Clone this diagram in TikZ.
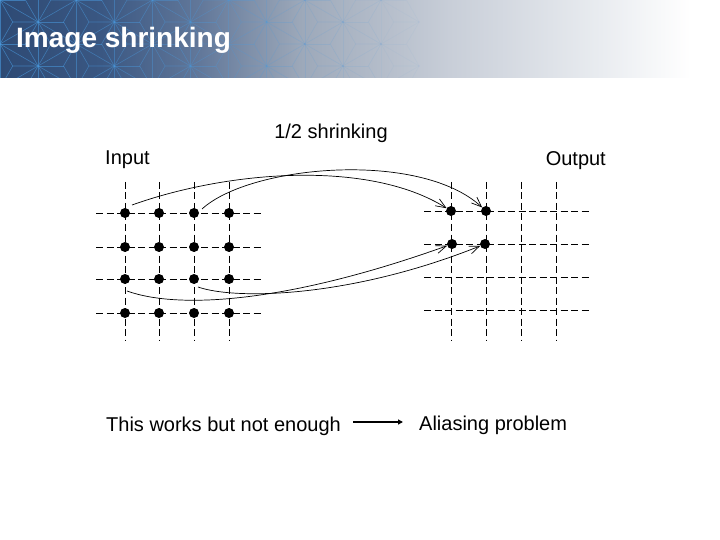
\documentclass[tikz,border=0pt]{standalone}
\usepackage{fontspec}
\setmainfont{Liberation Sans}
\usetikzlibrary{arrows.meta}
\definecolor{bandA}{HTML}{2E4A74}
\definecolor{bandB}{HTML}{3A5782}
\definecolor{bandC}{HTML}{62789A}
\definecolor{bandD}{HTML}{9CA8B9}
\definecolor{bandE}{HTML}{C8CED8}
\definecolor{bandF}{HTML}{E9ECF0}
\definecolor{hemp}{HTML}{4A9BE0}
\pgfdeclarehorizontalshading{titleband}{100bp}{color(0bp)=(bandA); color(25bp)=(bandA); color(32bp)=(bandB); color(38.9bp)=(bandC); color(45.8bp)=(bandD); color(56.2bp)=(bandE); color(66.7bp)=(bandF); color(73bp)=(white); color(100bp)=(white)}
\tikzset{
  gridline/.style={line width=0.9pt, dash pattern=on 7pt off 3.5pt},
  dot/.style={circle, fill=black, inner sep=0pt, minimum size=10pt},
  link/.style={line width=0.7pt, -{Straight Barb[length=10pt,width=8pt]}},
  lbl/.style={inner sep=0pt, font=\fontsize{20}{24}\selectfont},
}
\begin{document}
\begin{tikzpicture}[x=1pt,y=-1pt]
\useasboundingbox (0,0) rectangle (720,540);
\fill[white] (0,0) rectangle (720,540);
% title band
\shade[shading=titleband] (0,0) rectangle (720,78);
\begin{scope}
\clip (0,0) rectangle (720,78);
\pgfmathsetmacro{\aa}{44}
\pgfmathsetmacro{\hh}{38.105}
\foreach \i in {0,...,11}{
  \pgfmathsetmacro{\op}{0.6*(1-\i/11)}
  \pgfmathsetmacro{\xa}{\i*\hh}
  \pgfmathsetmacro{\xb}{(\i+1)*\hh}
  \pgfmathsetmacro{\s}{mod(\i,2)*\aa/2}
  \pgfmathsetmacro{\sp}{\aa/2-\s}
  \begin{scope}[draw=hemp, line width=0.6pt, opacity=\op]
  \draw (\xa,-10) -- (\xa,90);
  \foreach \j in {-1,...,2}{
    \pgfmathsetmacro{\ya}{\j*\aa+\s}
    \pgfmathsetmacro{\ym}{\ya+\aa/2}
    \pgfmathsetmacro{\yb}{\ya-\aa/2}
    \pgfmathsetmacro{\yc}{\ya+\aa}
    \pgfmathsetmacro{\cx}{\xa+\hh/3}
    \draw (\xa,\ya) -- (\xb,\ym);
    \draw (\xa,\ya) -- (\xb,\yb);
    \draw (\xa,\ya) -- (\cx,\ym) -- (\xb,\ym);
    \draw (\xa,\yc) -- (\cx,\ym);
    \pgfmathsetmacro{\ymm}{\j*\aa+\sp+\aa/2}
    \pgfmathsetmacro{\cxx}{\xb-\hh/3}
    \pgfmathsetmacro{\yup}{\ymm-\aa/2}
    \pgfmathsetmacro{\ydn}{\ymm+\aa/2}
    \draw (\xb,\yup) -- (\cxx,\ymm) -- (\xb,\ydn);
    \draw (\cxx,\ymm) -- (\xa,\ymm);
  }
  \end{scope}
}
\end{scope}
\node[anchor=base west, inner sep=0pt, text=white, font=\fontsize{28}{33}\selectfont\bfseries] (title) at (16,48) {Image shrinking};

% input grid
\foreach \x in {125,159,194,229} \draw[gridline] (\x,182) -- (\x,340);
\foreach \y in {213,247,279,313} \draw[gridline] (96,\y) -- (262,\y);
% output grid
\foreach \x in {451,486,521,556} \draw[gridline] (\x,182) -- (\x,340);
\foreach \y in {211,244,277,310} \draw[gridline] (424,\y) -- (590,\y);

% input dots
\foreach \c/\x in {1/125,2/159,3/194,4/229}
  \foreach \r/\y in {1/213,2/247,3/279,4/313}
    \node[dot] (i\r\c) at (\x,\y) {};
% output dots
\node[dot] (o11) at (451,211) {};
\node[dot] (o12) at (486,211) {};
\node[dot] (o21) at (452,244) {};
\node[dot] (o22) at (485,244) {};

% connector start points
\coordinate (s1) at (132,205);
\coordinate (s2) at (202,209);
\coordinate (s3) at (127,291);
\coordinate (s4) at (198,287);

\draw[link] (s1) .. controls (230,170) and (370,160) .. (o11);
\draw[link] (s2) .. controls (250,165) and (420,150) .. (o12);
\draw[link] (s3) .. controls (180,310) and (290,302) .. (o21);
\draw[link] (s4) .. controls (235,300) and (350,298) .. (o22);

% labels
\node[lbl, anchor=base] (shr) at (331,139) {1/2 shrinking};
\node[lbl, anchor=base west] (inp) at (105,165) {Input};
\node[lbl, anchor=base east] (outp) at (606,166) {Output};
\node[lbl, anchor=base west] (works) at (106,431) {This works but not enough};
\node[lbl, anchor=base west] (alias) at (419,430) {Aliasing problem};
\coordinate (ar1) at (353,422);
\coordinate (ar2) at (403,422);
\draw[line width=1.3pt, -{Triangle[length=5pt,width=5pt]}] (ar1) -- (ar2);
\end{tikzpicture}
\end{document}
